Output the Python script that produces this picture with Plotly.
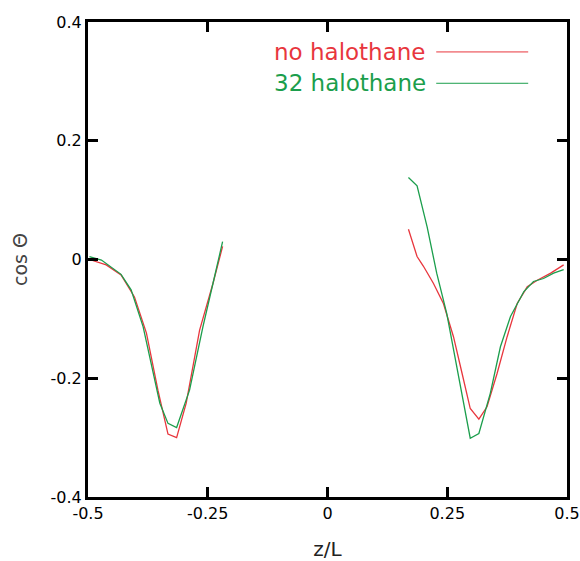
import plotly.graph_objects as go

# Data
left_z_no = [-0.497, -0.462, -0.431, -0.403, -0.378, -0.354, -0.333, -0.315, -0.295, -0.267, -0.239, -0.219]
left_c_no = [0.000, -0.009, -0.026, -0.063, -0.124, -0.220, -0.294, -0.300, -0.242, -0.119, -0.040, 0.022]
left_z_32 = [-0.497, -0.472, -0.431, -0.410, -0.385, -0.368, -0.350, -0.333, -0.315, -0.288, -0.260, -0.239, -0.219]
left_c_32 = [0.005, -0.001, -0.025, -0.051, -0.113, -0.175, -0.242, -0.276, -0.283, -0.220, -0.113, -0.040, 0.030]

right_z_no = [0.169, 0.187, 0.200, 0.221, 0.242, 0.263, 0.281, 0.298, 0.316, 0.333, 0.354, 0.375, 0.396, 0.417, 0.438, 0.466, 0.493]
right_c_no = [0.051, 0.005, -0.011, -0.040, -0.074, -0.130, -0.192, -0.251, -0.269, -0.248, -0.192, -0.130, -0.074, -0.046, -0.035, -0.023, -0.009]
right_z_32 = [0.169, 0.187, 0.208, 0.228, 0.249, 0.270, 0.298, 0.316, 0.340, 0.361, 0.382, 0.410, 0.430, 0.451, 0.472, 0.493]
right_c_32 = [0.138, 0.124, 0.055, -0.023, -0.091, -0.180, -0.301, -0.293, -0.225, -0.147, -0.096, -0.054, -0.037, -0.032, -0.023, -0.017]

series_names = ["no halothane", "32 halothane"]
series_colors = ["#e8363d", "#1b9e4c"]

x_ticks = [-0.5, -0.25, 0, 0.25, 0.5]
x_tick_labels = ["-0.5", "-0.25", "0", "0.25", "0.5"]
y_ticks = [-0.4, -0.2, 0, 0.2, 0.4]
y_tick_labels = ["-0.4", "-0.2", "0", "0.2", "0.4"]

FONT = "DejaVu Sans, Liberation Sans, Arial, sans-serif"

fig = go.Figure()
segments = [
    (left_z_no, left_c_no, 0), (right_z_no, right_c_no, 0),
    (left_z_32, left_c_32, 1), (right_z_32, right_c_32, 1),
]
for xs, ys, k in segments:
    fig.add_trace(go.Scatter(x=xs, y=ys, mode="lines",
                             line=dict(color=series_colors[k], width=1.3),
                             name=series_names[k], showlegend=False))

# custom legend: coloured text, line sample on the right
legend_y = [0.937, 0.871]
for k in range(2):
    fig.add_annotation(xref="paper", yref="paper", x=0.710, y=legend_y[k],
                       text=series_names[k], showarrow=False, xanchor="right",
                       yanchor="middle",
                       font=dict(family=FONT, size=23, color=series_colors[k]))
    fig.add_shape(type="line", xref="paper", yref="paper",
                  x0=0.727, x1=0.919, y0=legend_y[k], y1=legend_y[k],
                  line=dict(color=series_colors[k], width=1))

axis_common = dict(showline=True, linecolor="black", linewidth=3, mirror="allticks",
                   ticks="inside", ticklen=10, tickwidth=3, tickcolor="black",
                   showgrid=False, zeroline=False, automargin=False,
                   tickfont=dict(family=FONT, size=16, color="black"))

fig.update_xaxes(range=[-0.5, 0.5], tickvals=x_ticks, ticktext=x_tick_labels,
                 title=dict(text="z/L", font=dict(family=FONT, size=20, color="#222"), standoff=21),
                 **axis_common)
fig.update_yaxes(range=[-0.4, 0.4], tickvals=y_ticks, ticktext=y_tick_labels,
                 title=dict(text="cos Θ", font=dict(family=FONT, size=19, color="#444"), standoff=18),
                 **axis_common)

fig.update_layout(width=580, height=561, margin=dict(l=88, r=13, t=22, b=64),
                  plot_bgcolor="white", paper_bgcolor="white", showlegend=False)

# remove the browser's default 8px body margin so the figure fills the window
fig.write_html("out.html",
               config={"displayModeBar": False},
               post_script="document.body.style.margin='0';document.body.style.overflow='hidden';")
